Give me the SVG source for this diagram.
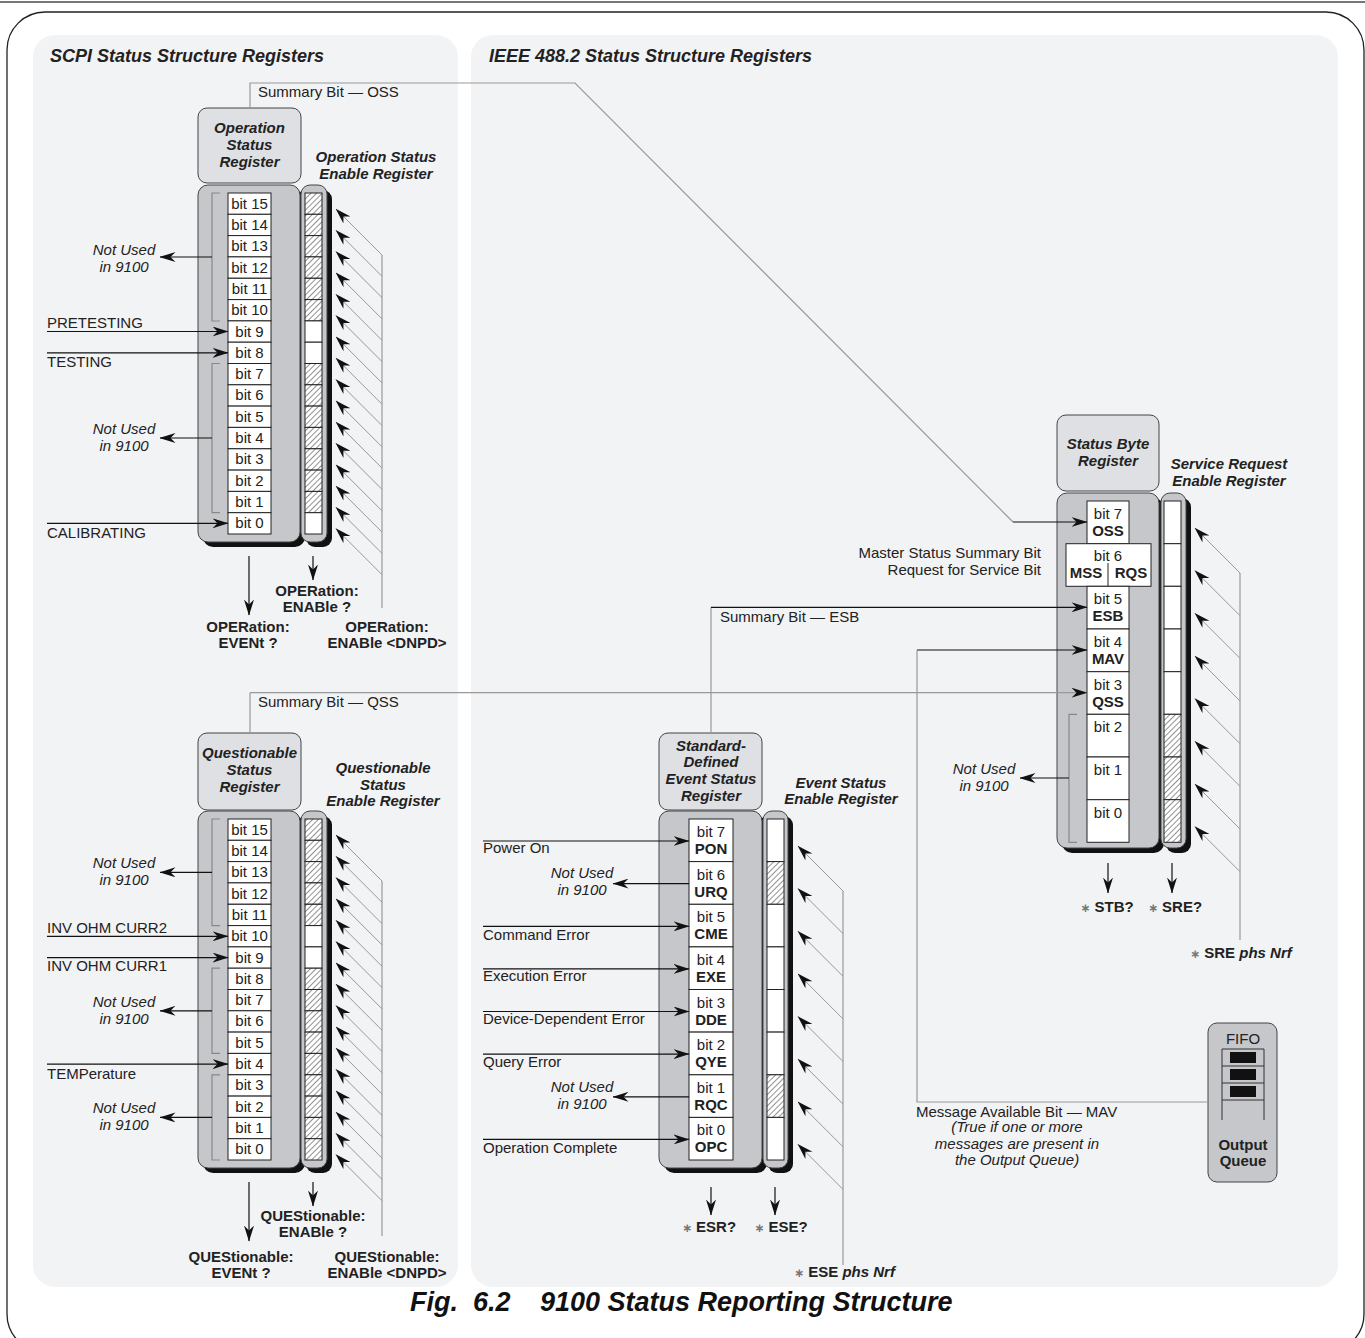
<svg xmlns="http://www.w3.org/2000/svg" width="1365" height="1338" viewBox="0 0 1365 1338">
<style>
text{font-family:"Liberation Sans",Arial,sans-serif;fill:#222;font-size:15px}
.bi{font-weight:bold;font-style:italic}
.b{font-weight:bold}
.i{font-style:italic}
.m{text-anchor:middle}
.r{text-anchor:end}
.ttl{font-size:18px;font-weight:bold;font-style:italic}
.cap{font-size:27px;font-weight:bold;font-style:italic;fill:#111}
.ast{font-size:12px;fill:#777;font-family:"DejaVu Sans",sans-serif}
.panel{fill:#f2f3f5}
.hdr{fill:#dfe0e3;stroke:#444;stroke-width:1}
.body{fill:#c6c7ca;stroke:#444;stroke-width:1}
.shd{fill:#111}
.cell{fill:#fff;stroke:#222;stroke-width:1}
.hat{fill:url(#hatch);stroke:#222;stroke-width:1}
.brk{fill:none;stroke:#888;stroke-width:1.2}
.in{fill:none;stroke:#111;stroke-width:1.2;marker-end:url(#ah)}
.ing{fill:none;stroke:#999;stroke-width:1.2;marker-end:url(#ah)}
.dg{fill:none;stroke:#999;stroke-width:1;marker-end:url(#ah)}
.gl{fill:none;stroke:#999;stroke-width:1.2}
</style>
<defs>
<pattern id="hatch" width="4" height="4" patternUnits="userSpaceOnUse" patternTransform="rotate(45)">
<rect width="4" height="4" fill="#fff"/><line x1="0" y1="0" x2="0" y2="4" stroke="#555" stroke-width="1.3"/>
</pattern>
<marker id="ah" viewBox="0 0 16 10" refX="15.5" refY="5" markerWidth="16" markerHeight="10" markerUnits="userSpaceOnUse" orient="auto">
<path d="M0,0 L16,5 L0,10 L5,5 Z" fill="#111"/>
</marker>
</defs>

<rect width="1365" height="1338" fill="#fff"/>
<line x1="0" y1="2" x2="1365" y2="2" stroke="#777" stroke-width="2"/>
<rect x="7" y="12" width="1357" height="1340" rx="38" fill="none" stroke="#222" stroke-width="1.3"/>

<rect class="panel" x="33" y="35" width="425" height="1252" rx="22"/>
<rect class="panel" x="471" y="35" width="867" height="1252" rx="22"/>
<text class="ttl" x="50" y="62">SCPI Status Structure Registers</text>
<text class="ttl" x="489" y="62">IEEE 488.2 Status Structure Registers</text>

<!-- Operation Status Register -->
<g id="op-status-register">
<rect class="hdr" x="198" y="108" width="103" height="75" rx="9"/>
<text class="bi m" x="249.5" y="133">Operation</text>
<text class="bi m" x="249.5" y="150">Status</text>
<text class="bi m" x="249.5" y="167">Register</text>
<rect class="shd" x="203" y="190" width="102" height="357" rx="10"/>
<rect class="body" x="198" y="185" width="102" height="357" rx="10"/>
<path class="brk" d="M220,193 H212 V321 H220 M220,363.5 H212 V512.7 H220"/>
<rect class="cell" x="228" y="193" width="43" height="21.3"/>
<rect class="cell" x="228" y="214.3" width="43" height="21.3"/>
<rect class="cell" x="228" y="235.6" width="43" height="21.3"/>
<rect class="cell" x="228" y="256.9" width="43" height="21.3"/>
<rect class="cell" x="228" y="278.3" width="43" height="21.3"/>
<rect class="cell" x="228" y="299.6" width="43" height="21.3"/>
<rect class="cell" x="228" y="320.9" width="43" height="21.3"/>
<rect class="cell" x="228" y="342.2" width="43" height="21.3"/>
<rect class="cell" x="228" y="363.5" width="43" height="21.3"/>
<rect class="cell" x="228" y="384.8" width="43" height="21.3"/>
<rect class="cell" x="228" y="406.1" width="43" height="21.3"/>
<rect class="cell" x="228" y="427.4" width="43" height="21.3"/>
<rect class="cell" x="228" y="448.8" width="43" height="21.3"/>
<rect class="cell" x="228" y="470.1" width="43" height="21.3"/>
<rect class="cell" x="228" y="491.4" width="43" height="21.3"/>
<rect class="cell" x="228" y="512.7" width="43" height="21.3"/>
<text class="m" x="249.5" y="208.6">bit 15</text>
<text class="m" x="249.5" y="229.9">bit 14</text>
<text class="m" x="249.5" y="251.2">bit 13</text>
<text class="m" x="249.5" y="272.5">bit 12</text>
<text class="m" x="249.5" y="293.9">bit 11</text>
<text class="m" x="249.5" y="315.2">bit 10</text>
<text class="m" x="249.5" y="336.5">bit 9</text>
<text class="m" x="249.5" y="357.8">bit 8</text>
<text class="m" x="249.5" y="379.1">bit 7</text>
<text class="m" x="249.5" y="400.4">bit 6</text>
<text class="m" x="249.5" y="421.7">bit 5</text>
<text class="m" x="249.5" y="443">bit 4</text>
<text class="m" x="249.5" y="464.4">bit 3</text>
<text class="m" x="249.5" y="485.7">bit 2</text>
<text class="m" x="249.5" y="507">bit 1</text>
<text class="m" x="249.5" y="528.3">bit 0</text>
</g>
<g id="op-enable-register">
<rect class="shd" x="306" y="190" width="26" height="357" rx="9"/>
<rect class="body" x="301" y="185" width="26" height="357" rx="9"/>
<rect class="hat" x="305" y="193" width="17" height="21.3"/>
<rect class="hat" x="305" y="214.3" width="17" height="21.3"/>
<rect class="hat" x="305" y="235.6" width="17" height="21.3"/>
<rect class="hat" x="305" y="256.9" width="17" height="21.3"/>
<rect class="hat" x="305" y="278.3" width="17" height="21.3"/>
<rect class="hat" x="305" y="299.6" width="17" height="21.3"/>
<rect class="cell" x="305" y="320.9" width="17" height="21.3"/>
<rect class="cell" x="305" y="342.2" width="17" height="21.3"/>
<rect class="hat" x="305" y="363.5" width="17" height="21.3"/>
<rect class="hat" x="305" y="384.8" width="17" height="21.3"/>
<rect class="hat" x="305" y="406.1" width="17" height="21.3"/>
<rect class="hat" x="305" y="427.4" width="17" height="21.3"/>
<rect class="hat" x="305" y="448.8" width="17" height="21.3"/>
<rect class="hat" x="305" y="470.1" width="17" height="21.3"/>
<rect class="hat" x="305" y="491.4" width="17" height="21.3"/>
<rect class="cell" x="305" y="512.7" width="17" height="21.3"/>
<text class="bi m" x="376" y="162">Operation Status</text>
<text class="bi m" x="376" y="179">Enable Register</text>
</g>

<!-- Questionable Status Register -->
<g id="ques-status-register">
<rect class="hdr" x="198" y="733" width="103" height="77" rx="9"/>
<text class="bi m" x="249.5" y="758">Questionable</text>
<text class="bi m" x="249.5" y="775">Status</text>
<text class="bi m" x="249.5" y="792">Register</text>
<rect class="shd" x="203" y="816" width="102" height="357" rx="10"/>
<rect class="body" x="198" y="811" width="102" height="357" rx="10"/>
<path class="brk" d="M220,819 H212 V925.6 H220 M220,968.2 H212 V1053.4 H220 M220,1074.8 H212 V1160 H220"/>
<rect class="cell" x="228" y="819" width="43" height="21.3"/>
<rect class="cell" x="228" y="840.3" width="43" height="21.3"/>
<rect class="cell" x="228" y="861.6" width="43" height="21.3"/>
<rect class="cell" x="228" y="882.9" width="43" height="21.3"/>
<rect class="cell" x="228" y="904.3" width="43" height="21.3"/>
<rect class="cell" x="228" y="925.6" width="43" height="21.3"/>
<rect class="cell" x="228" y="946.9" width="43" height="21.3"/>
<rect class="cell" x="228" y="968.2" width="43" height="21.3"/>
<rect class="cell" x="228" y="989.5" width="43" height="21.3"/>
<rect class="cell" x="228" y="1010.8" width="43" height="21.3"/>
<rect class="cell" x="228" y="1032.1" width="43" height="21.3"/>
<rect class="cell" x="228" y="1053.4" width="43" height="21.3"/>
<rect class="cell" x="228" y="1074.8" width="43" height="21.3"/>
<rect class="cell" x="228" y="1096.1" width="43" height="21.3"/>
<rect class="cell" x="228" y="1117.4" width="43" height="21.3"/>
<rect class="cell" x="228" y="1138.7" width="43" height="21.3"/>
<text class="m" x="249.5" y="834.6">bit 15</text>
<text class="m" x="249.5" y="855.9">bit 14</text>
<text class="m" x="249.5" y="877.2">bit 13</text>
<text class="m" x="249.5" y="898.5">bit 12</text>
<text class="m" x="249.5" y="919.9">bit 11</text>
<text class="m" x="249.5" y="941.2">bit 10</text>
<text class="m" x="249.5" y="962.5">bit 9</text>
<text class="m" x="249.5" y="983.8">bit 8</text>
<text class="m" x="249.5" y="1005.1">bit 7</text>
<text class="m" x="249.5" y="1026.4">bit 6</text>
<text class="m" x="249.5" y="1047.7">bit 5</text>
<text class="m" x="249.5" y="1069">bit 4</text>
<text class="m" x="249.5" y="1090.4">bit 3</text>
<text class="m" x="249.5" y="1111.7">bit 2</text>
<text class="m" x="249.5" y="1133">bit 1</text>
<text class="m" x="249.5" y="1154.3">bit 0</text>
</g>
<g id="ques-enable-register">
<rect class="shd" x="306" y="816" width="26" height="357" rx="9"/>
<rect class="body" x="301" y="811" width="26" height="357" rx="9"/>
<rect class="hat" x="305" y="819" width="17" height="21.3"/>
<rect class="hat" x="305" y="840.3" width="17" height="21.3"/>
<rect class="hat" x="305" y="861.6" width="17" height="21.3"/>
<rect class="hat" x="305" y="882.9" width="17" height="21.3"/>
<rect class="hat" x="305" y="904.3" width="17" height="21.3"/>
<rect class="cell" x="305" y="925.6" width="17" height="21.3"/>
<rect class="cell" x="305" y="946.9" width="17" height="21.3"/>
<rect class="hat" x="305" y="968.2" width="17" height="21.3"/>
<rect class="hat" x="305" y="989.5" width="17" height="21.3"/>
<rect class="hat" x="305" y="1010.8" width="17" height="21.3"/>
<rect class="hat" x="305" y="1032.1" width="17" height="21.3"/>
<rect class="hat" x="305" y="1053.4" width="17" height="21.3"/>
<rect class="hat" x="305" y="1074.8" width="17" height="21.3"/>
<rect class="hat" x="305" y="1096.1" width="17" height="21.3"/>
<rect class="hat" x="305" y="1117.4" width="17" height="21.3"/>
<rect class="hat" x="305" y="1138.7" width="17" height="21.3"/>
<text class="bi m" x="383" y="773">Questionable</text>
<text class="bi m" x="383" y="790">Status</text>
<text class="bi m" x="383" y="806">Enable Register</text>
</g>

<!-- Standard Event Status Register -->
<g id="event-status-register">
<rect class="hdr" x="659" y="733" width="103" height="77" rx="9"/>
<text class="bi m" x="711" y="751">Standard-</text>
<text class="bi m" x="711" y="767">Defined</text>
<text class="bi m" x="711" y="784">Event Status</text>
<text class="bi m" x="711" y="801">Register</text>
<rect class="shd" x="664" y="816" width="103" height="357" rx="10"/>
<rect class="body" x="659" y="811" width="103" height="357" rx="10"/>
<rect class="cell" x="689" y="819" width="44" height="42.6"/>
<rect class="cell" x="689" y="861.6" width="44" height="42.7"/>
<rect class="cell" x="689" y="904.3" width="44" height="42.6"/>
<rect class="cell" x="689" y="946.9" width="44" height="42.6"/>
<rect class="cell" x="689" y="989.5" width="44" height="42.6"/>
<rect class="cell" x="689" y="1032.1" width="44" height="42.7"/>
<rect class="cell" x="689" y="1074.8" width="44" height="42.6"/>
<rect class="cell" x="689" y="1117.4" width="44" height="42.6"/>
<text class="m" x="711" y="837">bit 7</text><text class="b m" x="711" y="854">PON</text>
<text class="m" x="711" y="879.6">bit 6</text><text class="b m" x="711" y="896.6">URQ</text>
<text class="m" x="711" y="922.3">bit 5</text><text class="b m" x="711" y="939.3">CME</text>
<text class="m" x="711" y="964.9">bit 4</text><text class="b m" x="711" y="981.9">EXE</text>
<text class="m" x="711" y="1007.5">bit 3</text><text class="b m" x="711" y="1024.5">DDE</text>
<text class="m" x="711" y="1050.1">bit 2</text><text class="b m" x="711" y="1067.1">QYE</text>
<text class="m" x="711" y="1092.8">bit 1</text><text class="b m" x="711" y="1109.8">RQC</text>
<text class="m" x="711" y="1135.4">bit 0</text><text class="b m" x="711" y="1152.4">OPC</text>
</g>
<g id="event-enable-register">
<rect class="shd" x="768" y="816" width="25" height="357" rx="9"/>
<rect class="body" x="763" y="811" width="25" height="357" rx="9"/>
<rect class="cell" x="767" y="819" width="17" height="42.6"/>
<rect class="hat" x="767" y="861.6" width="17" height="42.7"/>
<rect class="cell" x="767" y="904.3" width="17" height="42.6"/>
<rect class="cell" x="767" y="946.9" width="17" height="42.6"/>
<rect class="cell" x="767" y="989.5" width="17" height="42.6"/>
<rect class="cell" x="767" y="1032.1" width="17" height="42.7"/>
<rect class="hat" x="767" y="1074.8" width="17" height="42.6"/>
<rect class="cell" x="767" y="1117.4" width="17" height="42.6"/>
<text class="bi m" x="841" y="788">Event Status</text>
<text class="bi m" x="841" y="804">Enable Register</text>
</g>

<!-- Status Byte Register -->
<g id="status-byte-register">
<rect class="hdr" x="1057" y="415" width="102" height="76" rx="9"/>
<text class="bi m" x="1108" y="449">Status Byte</text>
<text class="bi m" x="1108" y="466">Register</text>
<rect class="shd" x="1062" y="498" width="102" height="355" rx="10"/>
<rect class="body" x="1057" y="493" width="102" height="355" rx="10"/>
<path class="brk" d="M1077,714.3 H1069 V842.3 H1077"/>
<rect class="cell" x="1087" y="501" width="42" height="42.7"/>
<rect class="cell" x="1066" y="543.7" width="85" height="42.6"/>
<line x1="1108" y1="563" x2="1108" y2="586.3" stroke="#222" stroke-width="1"/>
<rect class="cell" x="1087" y="586.3" width="42" height="42.7"/>
<rect class="cell" x="1087" y="629" width="42" height="42.7"/>
<rect class="cell" x="1087" y="671.7" width="42" height="42.6"/>
<rect class="cell" x="1087" y="714.3" width="42" height="42.7"/>
<rect class="cell" x="1087" y="757" width="42" height="42.7"/>
<rect class="cell" x="1087" y="799.7" width="42" height="42.6"/>
<text class="m" x="1108" y="519">bit 7</text><text class="b m" x="1108" y="536">OSS</text>
<text class="m" x="1108" y="561">bit 6</text>
<text class="b m" x="1086" y="578">MSS</text><text class="b m" x="1131" y="578">RQS</text>
<text class="m" x="1108" y="604.3">bit 5</text><text class="b m" x="1108" y="621.3">ESB</text>
<text class="m" x="1108" y="647">bit 4</text><text class="b m" x="1108" y="664">MAV</text>
<text class="m" x="1108" y="689.7">bit 3</text><text class="b m" x="1108" y="706.7">QSS</text>
<text class="m" x="1108" y="732.3">bit 2</text>
<text class="m" x="1108" y="775">bit 1</text>
<text class="m" x="1108" y="817.7">bit 0</text>
</g>
<g id="sre-register">
<rect class="shd" x="1166" y="498" width="25" height="355" rx="9"/>
<rect class="body" x="1161" y="493" width="25" height="355" rx="9"/>
<rect class="cell" x="1164" y="501" width="17" height="42.7"/>
<rect class="cell" x="1164" y="543.7" width="17" height="42.6"/>
<rect class="cell" x="1164" y="586.3" width="17" height="42.7"/>
<rect class="cell" x="1164" y="629" width="17" height="42.7"/>
<rect class="cell" x="1164" y="671.7" width="17" height="42.6"/>
<rect class="hat" x="1164" y="714.3" width="17" height="42.7"/>
<rect class="hat" x="1164" y="757" width="17" height="42.7"/>
<rect class="hat" x="1164" y="799.7" width="17" height="42.6"/>
<text class="bi m" x="1229" y="469">Service Request</text>
<text class="bi m" x="1229" y="486">Enable Register</text>
</g>

<!-- Output Queue -->
<g id="output-queue">
<rect x="1208" y="1023" width="69" height="159" rx="9" fill="#c6c7ca" stroke="#444" stroke-width="1"/>
<text class="m" x="1243" y="1044">FIFO</text>
<path d="M1222,1120 V1049 H1264 V1120 M1222,1066 H1264 M1222,1083 H1264 M1222,1100 H1264" fill="none" stroke="#333" stroke-width="1"/>
<rect x="1230" y="1052" width="26" height="11" fill="#111"/>
<rect x="1230" y="1069" width="26" height="11" fill="#111"/>
<rect x="1230" y="1086" width="26" height="11" fill="#111"/>
<text class="b m" x="1243" y="1150">Output</text>
<text class="b m" x="1243" y="1166">Queue</text>
</g>

<!-- connectors -->
<g id="connectors">
<path class="gl" d="M250,108 V83 H575 L1013,522"/>
<path class="in" d="M1013,522 H1087"/>
<path class="gl" d="M250,733 V692.7"/>
<path class="ing" d="M250,692.7 H1087"/>
<path class="gl" d="M711,733 V607.3"/>
<path class="in" d="M711,607.3 H1087"/>
<path class="in" d="M917,650 H1087"/>
<path class="gl" d="M1208,1102 H917 V650"/>
<line class="in" x1="47" y1="331.5" x2="228" y2="331.5"/>
<line class="in" x1="47" y1="352.8" x2="228" y2="352.8"/>
<line class="in" x1="47" y1="523.3" x2="228" y2="523.3"/>
<line class="in" x1="212" y1="257" x2="160" y2="257"/>
<line class="in" x1="212" y1="438" x2="160" y2="438"/>
<line class="in" x1="47" y1="936.3" x2="228" y2="936.3"/>
<line class="in" x1="47" y1="957.6" x2="228" y2="957.6"/>
<line class="in" x1="47" y1="1064.1" x2="228" y2="1064.1"/>
<line class="in" x1="212" y1="872.3" x2="160" y2="872.3"/>
<line class="in" x1="212" y1="1010.8" x2="160" y2="1010.8"/>
<line class="in" x1="212" y1="1117.4" x2="160" y2="1117.4"/>
<line class="in" x1="483" y1="841" x2="689" y2="841"/>
<line class="in" x1="483" y1="926.3" x2="689" y2="926.3"/>
<line class="in" x1="483" y1="968.9" x2="689" y2="968.9"/>
<line class="in" x1="483" y1="1011.5" x2="689" y2="1011.5"/>
<line class="in" x1="483" y1="1054.1" x2="689" y2="1054.1"/>
<line class="in" x1="483" y1="1139.4" x2="689" y2="1139.4"/>
<line class="in" x1="689" y1="883.6" x2="613" y2="883.6"/>
<line class="in" x1="689" y1="1096.8" x2="613" y2="1096.8"/>
<line class="in" x1="1069" y1="778" x2="1020" y2="778"/>
<line class="in" x1="249" y1="556" x2="249" y2="615"/>
<line class="in" x1="313" y1="556" x2="313" y2="580"/>
<line class="in" x1="249" y1="1182" x2="249" y2="1241"/>
<line class="in" x1="313" y1="1182" x2="313" y2="1206"/>
<line class="in" x1="711" y1="1187" x2="711" y2="1215"/>
<line class="in" x1="775" y1="1187" x2="775" y2="1215"/>
<line class="in" x1="1108" y1="863" x2="1108" y2="893"/>
<line class="in" x1="1172" y1="863" x2="1172" y2="893"/>
<line class="gl" x1="382" y1="255" x2="382" y2="608"/>
<line class="dg" x1="382" y1="255" x2="336" y2="209"/>
<line class="dg" x1="382" y1="276.3" x2="336" y2="230.3"/>
<line class="dg" x1="382" y1="297.6" x2="336" y2="251.6"/>
<line class="dg" x1="382" y1="318.9" x2="336" y2="272.9"/>
<line class="dg" x1="382" y1="340.3" x2="336" y2="294.3"/>
<line class="dg" x1="382" y1="361.6" x2="336" y2="315.6"/>
<line class="dg" x1="382" y1="382.9" x2="336" y2="336.9"/>
<line class="dg" x1="382" y1="404.2" x2="336" y2="358.2"/>
<line class="dg" x1="382" y1="425.5" x2="336" y2="379.5"/>
<line class="dg" x1="382" y1="446.8" x2="336" y2="400.8"/>
<line class="dg" x1="382" y1="468.1" x2="336" y2="422.1"/>
<line class="dg" x1="382" y1="489.4" x2="336" y2="443.4"/>
<line class="dg" x1="382" y1="510.8" x2="336" y2="464.8"/>
<line class="dg" x1="382" y1="532.1" x2="336" y2="486.1"/>
<line class="dg" x1="382" y1="553.4" x2="336" y2="507.4"/>
<line class="dg" x1="382" y1="574.7" x2="336" y2="528.7"/>
<line class="gl" x1="382" y1="881" x2="382" y2="1236"/>
<line class="dg" x1="382" y1="881" x2="336" y2="835"/>
<line class="dg" x1="382" y1="902.3" x2="336" y2="856.3"/>
<line class="dg" x1="382" y1="923.6" x2="336" y2="877.6"/>
<line class="dg" x1="382" y1="944.9" x2="336" y2="898.9"/>
<line class="dg" x1="382" y1="966.3" x2="336" y2="920.3"/>
<line class="dg" x1="382" y1="987.6" x2="336" y2="941.6"/>
<line class="dg" x1="382" y1="1008.9" x2="336" y2="962.9"/>
<line class="dg" x1="382" y1="1030.2" x2="336" y2="984.2"/>
<line class="dg" x1="382" y1="1051.5" x2="336" y2="1005.5"/>
<line class="dg" x1="382" y1="1072.8" x2="336" y2="1026.8"/>
<line class="dg" x1="382" y1="1094.1" x2="336" y2="1048.1"/>
<line class="dg" x1="382" y1="1115.4" x2="336" y2="1069.4"/>
<line class="dg" x1="382" y1="1136.8" x2="336" y2="1090.8"/>
<line class="dg" x1="382" y1="1158.1" x2="336" y2="1112.1"/>
<line class="dg" x1="382" y1="1179.4" x2="336" y2="1133.4"/>
<line class="dg" x1="382" y1="1200.7" x2="336" y2="1154.7"/>
<line class="gl" x1="843" y1="891" x2="843" y2="1265"/>
<line class="dg" x1="843" y1="891" x2="798" y2="846"/>
<line class="dg" x1="843" y1="933.6" x2="798" y2="888.6"/>
<line class="dg" x1="843" y1="976.3" x2="798" y2="931.3"/>
<line class="dg" x1="843" y1="1018.9" x2="798" y2="973.9"/>
<line class="dg" x1="843" y1="1061.5" x2="798" y2="1016.5"/>
<line class="dg" x1="843" y1="1104.1" x2="798" y2="1059.1"/>
<line class="dg" x1="843" y1="1146.8" x2="798" y2="1101.8"/>
<line class="dg" x1="843" y1="1189.4" x2="798" y2="1144.4"/>
<line class="gl" x1="1240" y1="573" x2="1240" y2="940"/>
<line class="dg" x1="1240" y1="573" x2="1195" y2="528"/>
<line class="dg" x1="1240" y1="615.7" x2="1195" y2="570.7"/>
<line class="dg" x1="1240" y1="658.3" x2="1195" y2="613.3"/>
<line class="dg" x1="1240" y1="701" x2="1195" y2="656"/>
<line class="dg" x1="1240" y1="743.7" x2="1195" y2="698.7"/>
<line class="dg" x1="1240" y1="786.3" x2="1195" y2="741.3"/>
<line class="dg" x1="1240" y1="829" x2="1195" y2="784"/>
<line class="dg" x1="1240" y1="871.7" x2="1195" y2="826.7"/>
</g>

<!-- labels on connectors -->
<g id="labels">
<text x="258" y="97">Summary Bit — OSS</text>
<text x="258" y="707">Summary Bit — QSS</text>
<text x="720" y="622">Summary Bit — ESB</text>
<text x="47" y="328">PRETESTING</text>
<text x="47" y="367">TESTING</text>
<text x="47" y="538">CALIBRATING</text>
<text class="i m" x="124" y="255">Not Used</text>
<text class="i m" x="124" y="272">in 9100</text>
<text class="i m" x="124" y="434">Not Used</text>
<text class="i m" x="124" y="451">in 9100</text>
<text x="47" y="933">INV OHM CURR2</text>
<text x="47" y="971">INV OHM CURR1</text>
<text x="47" y="1079">TEMPerature</text>
<text class="i m" x="124" y="868">Not Used</text>
<text class="i m" x="124" y="885">in 9100</text>
<text class="i m" x="124" y="1007">Not Used</text>
<text class="i m" x="124" y="1024">in 9100</text>
<text class="i m" x="124" y="1113">Not Used</text>
<text class="i m" x="124" y="1130">in 9100</text>
<text x="483" y="853">Power On</text>
<text x="483" y="940">Command Error</text>
<text x="483" y="981">Execution Error</text>
<text x="483" y="1024">Device-Dependent Error</text>
<text x="483" y="1067">Query Error</text>
<text x="483" y="1153">Operation Complete</text>
<text class="i m" x="582" y="878">Not Used</text>
<text class="i m" x="582" y="895">in 9100</text>
<text class="i m" x="582" y="1092">Not Used</text>
<text class="i m" x="582" y="1109">in 9100</text>
<text class="r" x="1041" y="558">Master Status Summary Bit</text>
<text class="r" x="1041" y="575">Request for Service Bit</text>
<text class="i m" x="984" y="774">Not Used</text>
<text class="i m" x="984" y="791">in 9100</text>
<text x="916" y="1117">Message Available Bit — MAV</text>
<text class="i m" x="1017" y="1132">(True if one or more</text>
<text class="i m" x="1017" y="1149">messages are present in</text>
<text class="i m" x="1017" y="1165">the Output Queue)</text>
<text class="b m" x="317" y="596">OPERation:</text>
<text class="b m" x="317" y="612">ENABle ?</text>
<text class="b m" x="248" y="632">OPERation:</text>
<text class="b m" x="248" y="648">EVENt ?</text>
<text class="b m" x="387" y="632">OPERation:</text>
<text class="b m" x="387" y="648">ENABle &lt;DNPD&gt;</text>
<text class="b m" x="313" y="1221">QUEStionable:</text>
<text class="b m" x="313" y="1237">ENABle ?</text>
<text class="b m" x="241" y="1262">QUEStionable:</text>
<text class="b m" x="241" y="1278">EVENt ?</text>
<text class="b m" x="387" y="1262">QUEStionable:</text>
<text class="b m" x="387" y="1278">ENABle &lt;DNPD&gt;</text>
<text class="b m" x="709" y="1232"><tspan class="ast">∗</tspan> ESR?</text>
<text class="b m" x="781" y="1232"><tspan class="ast">∗</tspan> ESE?</text>
<text class="b" x="794" y="1277"><tspan class="ast">∗</tspan> ESE <tspan class="bi">phs Nrf</tspan></text>
<text class="b m" x="1107" y="912"><tspan class="ast">∗</tspan> STB?</text>
<text class="b m" x="1175" y="912"><tspan class="ast">∗</tspan> SRE?</text>
<text class="b" x="1190" y="958"><tspan class="ast">∗</tspan> SRE <tspan class="bi">phs Nrf</tspan></text>
</g>

<text class="cap" x="410" y="1311">Fig.</text>
<text class="cap" x="473" y="1311">6.2</text>
<text class="cap" x="540" y="1311">9100 Status Reporting Structure</text>
</svg>
